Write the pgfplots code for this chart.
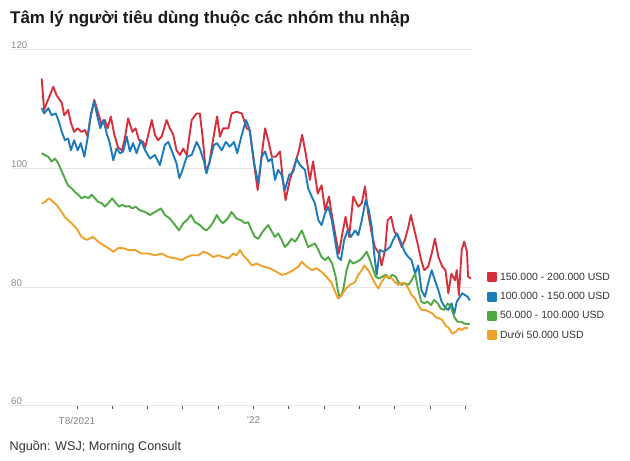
\documentclass[border=0pt]{standalone}
\usepackage{fontspec}
\setmainfont{Liberation Sans}
\usepackage{pgfplots}
\pgfplotsset{compat=1.18}
\definecolor{cred}{HTML}{D7303D}
\definecolor{cblue}{HTML}{1C7CBB}
\definecolor{cgreen}{HTML}{4FA843}
\definecolor{corange}{HTML}{F0A12B}
\definecolor{cgrid}{HTML}{E6E6E6}
\definecolor{ctick}{HTML}{888888}
\definecolor{ctext}{HTML}{333333}
\begin{document}
\begin{tikzpicture}
\useasboundingbox (0,0) rectangle (630bp,461bp);
\node[anchor=base west, font=\fontsize{17}{20}\selectfont\bfseries, text=black!90, inner sep=0pt] at (10bp,437bp) {Tâm lý người tiêu dùng thuộc các nhóm thu nhập};
\node[anchor=base west, font=\fontsize{12.7}{14}\selectfont, text=ctext, inner sep=0pt] at (9.5bp,10.3bp) {Nguồn: WSJ; Morning Consult};
\begin{axis}[
  at={(12bp,55bp)}, anchor=south west,
  scale only axis, width=461bp, height=356bp,
  xmin=-1.84, xmax=11.22, ymin=60, ymax=120,
  axis line style={draw=none},
  ytick={60,80,100,120},
  ymajorgrids, grid style={cgrid, line width=1bp},
  xtick={0,1,2,3,4,5,6,7,8,9,10,11},
  xticklabels={T8/2021,,,,,’22,,,,,,},
  xtick pos=left, ytick pos=left,
  tick align=outside, major tick length=3.5bp,
  xtick style={draw=black!65, line width=0.8bp},
  ytick style={draw=none},
  /pgf/number format/assume math mode=true,
  yticklabel style={anchor=south west, font=\fontsize{9.7}{10}\selectfont, text=ctick, inner sep=1bp, xshift=1.5bp},
  xticklabel style={font=\fontsize{10}{11}\selectfont, text=ctick, yshift=-4bp},
  legend style={at={(1,0.376)}, anchor=north west, xshift=13.7bp, draw=none, fill=none,
    font=\fontsize{10.5}{12}\selectfont, text=ctext, inner sep=0pt, row sep=9.3bp,
    nodes={inner sep=0pt, text height=8bp, text depth=2bp},
    /tikz/every odd column/.append style={column sep=3.3bp}},
  legend cell align=left,
  legend image code/.code={\fill[#1] (0bp,-4bp) rectangle (8bp,4bp);},
  every axis plot/.append style={line width=1.9bp, line join=round},
]
\addplot[cred] table {
-1.00 115.2
-0.93 109.9
-0.82 111.6
-0.67 113.8
-0.58 112.4
-0.43 111.1
-0.36 109.0
-0.25 109.9
-0.17 107.7
-0.08 106.2
0.02 106.8
0.13 106.2
0.23 106.5
0.30 105.4
0.37 108.2
0.49 111.6
0.60 109.4
0.70 107.4
0.79 108.2
0.87 106.8
0.96 108.8
1.06 105.7
1.17 103.5
1.28 103.1
1.36 105.2
1.45 108.5
1.57 106.2
1.66 106.8
1.76 104.8
1.88 104.5
1.93 103.5
2.02 105.7
2.12 108.2
2.21 105.7
2.30 104.8
2.40 105.4
2.54 108.2
2.63 106.8
2.73 105.7
2.82 103.1
2.92 102.3
3.01 103.4
3.11 102.3
3.25 108.2
3.39 109.3
3.48 109.3
3.56 105.4
3.65 99.5
3.75 100.9
3.84 104.3
3.97 108.8
4.05 105.4
4.14 106.8
4.29 106.8
4.38 109.3
4.52 109.6
4.67 109.3
4.81 106.8
4.90 106.5
4.99 102.0
5.12 96.4
5.23 102.0
5.33 106.8
5.44 104.3
5.52 102.0
5.63 102.0
5.75 102.9
5.84 97.8
5.91 94.7
6.03 98.1
6.18 100.9
6.29 103.1
6.38 105.7
6.48 102.6
6.60 98.1
6.69 101.2
6.82 95.8
6.93 97.2
7.03 93.0
7.14 95.3
7.23 91.9
7.33 88.5
7.42 85.7
7.52 89.1
7.61 91.9
7.71 88.5
7.83 95.3
7.97 93.6
8.07 94.2
8.16 97.0
8.25 92.5
8.35 89.1
8.44 86.8
8.56 85.7
8.63 83.7
8.73 86.3
8.80 91.3
8.90 91.9
8.99 89.4
9.10 88.5
9.20 86.8
9.29 88.0
9.39 90.2
9.46 92.2
9.56 89.6
9.65 87.4
9.75 84.6
9.84 82.9
9.95 83.5
10.05 85.7
10.14 88.2
10.24 85.1
10.35 83.5
10.44 82.9
10.52 79.0
10.61 82.3
10.71 81.2
10.76 82.9
10.82 78.7
10.90 86.3
10.97 87.7
11.05 86.0
11.08 81.8
11.16 81.5
};
\addlegendentry{150.000 - 200.000 USD}
\addplot[cblue] table {
-1.00 110.2
-0.93 109.3
-0.81 110.2
-0.72 109.0
-0.60 109.3
-0.51 107.9
-0.43 106.2
-0.34 104.8
-0.25 105.1
-0.17 103.1
-0.08 104.8
0.02 103.1
0.11 104.3
0.21 102.0
0.30 105.1
0.40 109.3
0.49 111.3
0.59 108.5
0.66 106.8
0.75 108.2
0.84 106.0
0.93 104.3
1.03 101.4
1.12 103.4
1.22 102.6
1.31 102.9
1.41 105.4
1.50 102.9
1.59 104.3
1.69 102.6
1.81 104.8
1.93 103.1
2.07 101.7
2.21 102.3
2.35 100.6
2.49 104.0
2.59 104.5
2.73 102.3
2.82 100.9
2.90 98.4
2.99 99.8
3.11 102.0
3.25 102.3
3.39 104.5
3.48 103.4
3.60 101.2
3.67 99.2
3.77 101.4
3.88 104.0
3.97 104.3
4.10 103.1
4.22 104.5
4.33 103.7
4.45 104.5
4.54 102.6
4.67 105.7
4.79 108.2
4.88 106.8
4.95 104.0
5.04 100.3
5.14 97.5
5.23 102.0
5.33 102.9
5.42 101.2
5.52 101.7
5.61 98.1
5.70 99.8
5.80 98.9
5.89 96.4
6.01 98.9
6.13 99.5
6.22 101.7
6.32 100.6
6.46 99.8
6.55 96.7
6.65 95.3
6.74 94.2
6.84 91.3
6.93 90.5
7.03 92.5
7.12 93.6
7.22 91.3
7.31 88.0
7.39 85.1
7.48 84.6
7.57 88.0
7.67 89.6
7.76 88.5
7.88 89.6
7.97 88.8
8.07 91.3
8.18 94.7
8.27 93.0
8.35 90.2
8.42 85.7
8.49 82.1
8.58 86.3
8.68 86.0
8.77 86.3
8.87 86.8
8.96 88.0
9.06 89.1
9.15 88.0
9.24 86.6
9.31 85.7
9.39 85.1
9.48 84.6
9.58 82.3
9.67 83.7
9.76 79.5
9.86 78.4
9.95 80.7
10.05 82.9
10.14 81.2
10.24 79.5
10.33 77.6
10.42 76.7
10.52 76.2
10.61 77.3
10.69 75.6
10.76 77.6
10.85 78.4
10.92 79.0
10.99 78.7
11.07 78.4
11.13 77.8
};
\addlegendentry{100.000 - 150.000 USD}
\addplot[cgreen] table {
-1.00 102.6
-0.91 102.3
-0.81 102.0
-0.72 101.2
-0.62 101.7
-0.53 100.9
-0.45 99.8
-0.36 98.6
-0.26 97.2
-0.15 96.7
-0.06 96.1
0.04 95.6
0.13 95.0
0.23 95.3
0.32 95.0
0.42 95.6
0.51 95.0
0.60 94.4
0.70 94.2
0.79 93.6
0.89 94.2
1.00 95.0
1.10 94.2
1.19 93.6
1.28 93.9
1.38 93.6
1.47 93.7
1.57 93.3
1.66 93.6
1.78 93.0
1.93 92.7
2.07 92.2
2.21 92.7
2.38 93.3
2.49 92.2
2.63 91.6
2.78 90.5
2.89 89.6
3.01 90.8
3.11 91.3
3.23 92.2
3.34 91.0
3.48 90.5
3.58 89.9
3.67 89.6
3.77 90.2
3.86 91.0
3.96 92.2
4.05 91.3
4.14 90.8
4.27 91.6
4.38 92.7
4.52 91.6
4.65 91.3
4.76 90.8
4.85 91.0
4.95 89.6
5.04 88.5
5.14 88.2
5.23 89.1
5.33 89.9
5.42 90.5
5.52 89.4
5.61 88.5
5.70 89.1
5.80 88.0
5.89 86.8
5.99 87.4
6.08 88.2
6.18 87.7
6.27 88.5
6.37 89.6
6.46 88.2
6.55 86.8
6.65 87.1
6.74 87.4
6.84 86.3
6.93 85.1
7.03 84.6
7.12 85.1
7.23 84.0
7.33 81.8
7.39 79.5
7.44 78.3
7.49 78.7
7.54 79.5
7.64 82.9
7.73 84.6
7.83 84.0
7.92 84.3
8.02 84.6
8.07 84.9
8.21 86.0
8.30 84.6
8.40 82.9
8.46 81.8
8.56 81.5
8.65 81.8
8.75 82.1
8.84 81.5
8.93 82.1
9.03 81.8
9.10 80.9
9.20 80.4
9.29 80.7
9.39 80.4
9.48 81.2
9.58 82.3
9.65 80.1
9.75 77.6
9.84 77.3
9.93 77.6
10.03 77.0
10.12 77.9
10.22 77.3
10.31 76.4
10.41 76.2
10.50 77.3
10.59 76.7
10.69 75.0
10.78 74.2
10.88 74.2
10.97 73.9
11.07 73.8
11.13 73.9
};
\addlegendentry{50.000 - 100.000 USD}
\addplot[corange] table {
-1.00 94.1
-0.91 94.4
-0.79 95.0
-0.67 94.4
-0.58 93.9
-0.43 92.7
-0.34 91.8
-0.15 90.8
-0.01 89.9
0.13 88.5
0.27 88.0
0.46 88.5
0.60 87.7
0.75 87.1
0.89 86.6
1.03 86.0
1.17 86.6
1.31 86.6
1.45 86.3
1.64 86.3
1.83 85.7
2.02 85.7
2.21 85.4
2.40 85.7
2.59 85.1
2.78 84.9
2.97 84.6
3.11 85.1
3.25 85.4
3.44 85.4
3.58 86.0
3.72 85.7
3.86 85.1
4.00 85.4
4.14 85.1
4.29 84.9
4.43 85.7
4.52 85.4
4.62 86.3
4.71 85.4
4.84 84.6
4.95 83.7
5.09 84.0
5.28 83.5
5.47 83.2
5.66 82.6
5.80 82.1
5.94 82.3
6.13 82.9
6.27 83.5
6.37 84.3
6.51 83.5
6.65 82.9
6.79 83.2
6.93 82.6
7.07 81.8
7.22 80.7
7.31 79.3
7.40 78.1
7.50 78.7
7.62 79.8
7.73 80.4
7.88 80.9
7.97 82.1
8.07 82.9
8.14 83.7
8.25 82.9
8.35 81.8
8.44 80.7
8.54 79.8
8.63 80.9
8.73 81.8
8.82 81.8
8.92 81.5
9.01 80.9
9.10 80.4
9.20 80.7
9.29 80.7
9.39 79.8
9.48 78.7
9.58 78.1
9.67 77.0
9.76 76.2
9.86 76.2
9.97 75.9
10.07 75.6
10.16 75.0
10.25 74.8
10.35 74.5
10.44 73.6
10.54 73.1
10.63 72.2
10.73 72.5
10.82 73.1
10.90 72.8
10.99 73.2
11.08 73.1
};
\addlegendentry{Dưới 50.000 USD}
\end{axis}
\end{tikzpicture}
\end{document}
